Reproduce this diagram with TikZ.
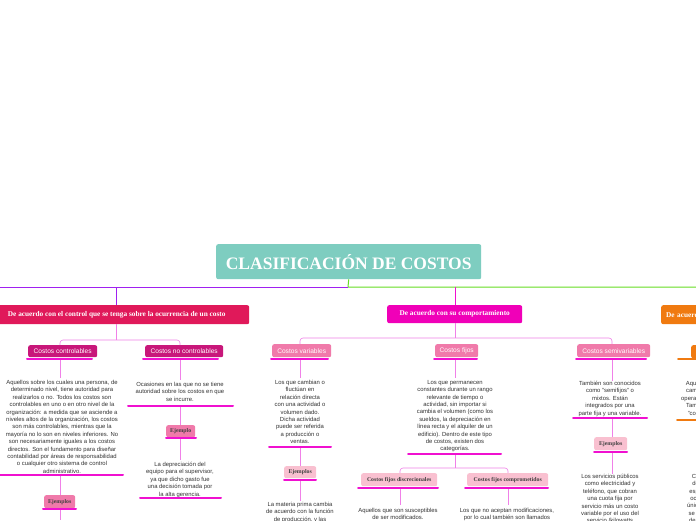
\documentclass[tikz,border=0pt]{standalone}
\usepackage{fontspec}
\setmainfont{Liberation Serif}
\setsansfont{Liberation Sans}
\definecolor{teal1}{HTML}{7ECDC0}
\definecolor{crim}{HTML}{E0195A}
\definecolor{mag}{HTML}{F000B8}
\definecolor{ora}{HTML}{F07A10}
\definecolor{dpk}{HTML}{C8177A}
\definecolor{mpk}{HTML}{F07AAA}
\definecolor{lpk}{HTML}{F9C0D0}
\definecolor{mg}{HTML}{F010D0}
\definecolor{lp}{HTML}{F080E8}
\definecolor{gr}{HTML}{66DD22}
\definecolor{vi}{HTML}{A020F0}
\begin{document}
\begin{tikzpicture}[x=1pt,y=-1pt,
 box/.style={rounded corners=2pt,inner sep=0pt,anchor=north west},
 sub/.style={box,fill=#1,text=white,font=\sffamily\fontsize{6.6}{7}\selectfont},
 dk/.style={box,fill=#1,text=black!75,font=\bfseries\fontsize{5.8}{6.5}\selectfont},
 txt/.style={align=center,inner sep=0pt,anchor=north,text=black!80,font=\sffamily\fontsize{5.9}{7.4}\selectfont},
 hd/.style={box,text=white,font=\bfseries\fontsize{7.3}{8}\selectfont},
 bar/.style={line width=2pt,draw=#1,line cap=round},
 ln/.style={draw=#1,line width=0.6pt,rounded corners=3pt}]
\useasboundingbox (0,0) rectangle (696,520);
\clip (0,0) rectangle (696,520);
\fill[white] (0,0) rectangle (696,520);
% title
\node[box,fill=teal1,minimum width=265pt,minimum height=35pt,text=white,font=\bfseries\fontsize{17.5}{19}\selectfont] (t) at (216,244) {CLASIFICACIÓN DE COSTOS};
\coordinate (tj) at (348,287);
\draw[line width=1pt,gr] (t.south) -- (tj) -- (696,287);
\draw[line width=1pt,vi] (tj) -- (0,287);
% branch headers
\node[hd,fill=crim,minimum width=259pt,minimum height=19pt] (b1) at (-10,305) {\hspace*{-6pt}De acuerdo con el control que se tenga sobre la ocurrencia de un costo};
\node[hd,fill=mag,minimum width=135pt,minimum height=18pt] (b2) at (387,305) {De acuerdo con su comportamiento};
\node[hd,fill=ora,minimum width=150pt,minimum height=19pt,align=left,text width=150pt] (b3) at (661,305) {\hspace*{5pt}De acuerdo con su identificación};
\draw[ln=vi] (116,287) -- (116,305);
\draw[ln=mg] (455,287) -- (455,305);
% branch 1 children
\node[sub=dpk,minimum width=69pt,minimum height=12pt] (c1) at (28,345) {Costos controlables};
\node[sub=dpk,minimum width=78pt,minimum height=12pt] (c2) at (145,345) {Costos no controlables};
\draw[ln=lp] (116,324) -- (116,340);
\draw[ln=lp] (60,345) -- (60,340) -- (180,340) -- (180,345);
\draw[bar=mg] (27,359) -- (92,359);
\draw[bar=mg] (143,359) -- (218,359);
\node[txt] (c1t) at (62,380) {Aquellos sobre los cuales una persona, de\\determinado nivel, tiene autoridad para\\realizarlos o no. Todos los costos son\\controlables en uno o en otro nivel de la\\organización: a medida que se asciende a\\niveles altos de la organización, los costos\\son más controlables, mientras que la\\mayoría no lo son en niveles inferiores. No\\son necesariamente iguales a los costos\\directos. Son el fundamento para diseñar\\contabilidad por áreas de responsabilidad\\o cualquier otro sistema de control\\administrativo.};
\draw[ln=lp] (60,360) -- (60,378);
\draw[bar=mg] (0,475) -- (123,475);
\draw[ln=lp] (60,476) -- (60,495);
\node[dk=mpk,minimum width=31pt,minimum height=13pt] (e1) at (44,495) {Ejemplos};
\draw[bar=mg] (43,509) -- (76,509);
\draw[ln=lp] (60,510) -- (60,520);
\node[txt] (c2t) at (180,382) {Ocasiones en las que no se tiene\\autoridad sobre los costos en que\\se incurre.};
\draw[ln=lp] (180,360) -- (180,380);
\draw[bar=mg] (128,406) -- (233,406);
\draw[ln=lp] (180,407) -- (180,425);
\node[dk=mpk,minimum width=29pt,minimum height=12pt] (e2) at (166,425) {Ejemplo};
\draw[bar=mg] (166,438) -- (196,438);
\draw[ln=lp] (180,439) -- (180,460);
\node[txt] (e2t) at (180,462) {La depreciación del\\equipo para el supervisor,\\ya que dicho gasto fue\\una decisión tomada por\\la alta gerencia.};
\draw[bar=mg] (140,498) -- (221,498);
% branch 2 children
\draw[ln=lp] (455,323) -- (455,338);
\draw[ln=lp] (300,344) -- (300,338) -- (612,338) -- (612,344);
\node[sub=mpk,minimum width=59pt,minimum height=13pt] (v) at (272,344) {Costos variables};
\node[sub=mpk,minimum width=43pt,minimum height=13pt] (f) at (435,344) {Costos fijos};
\node[sub=mpk,minimum width=73pt,minimum height=13pt] (s) at (577,344) {Costos semivariables};
\draw[bar=mg] (271,359) -- (328,359);
\draw[bar=mg] (434,359) -- (477,359);
\draw[bar=mg] (576,359) -- (646,359);
\draw[ln=lp] (300,360) -- (300,378);
\node[txt] (vt) at (300,380) {Los que cambian o\\fluctúan en\\relación directa\\con una actividad o\\volumen dado.\\Dicha actividad\\puede ser referida\\a producción o\\ventas.};
\draw[bar=mg] (269,447) -- (331,447);
\draw[ln=lp] (300,448) -- (300,466);
\node[dk=lpk,minimum width=32pt,minimum height=12pt] (ev) at (284,466) {Ejemplos};
\draw[bar=mg] (284,480) -- (316,480);
\draw[ln=lp] (300,481) -- (300,501);
\node[txt] (evt) at (300,502) {La materia prima cambia\\de acuerdo con la función\\de producción, y las};
\draw[ln=lp] (455,360) -- (455,378);
\node[txt] (ft) at (455,380) {Los que permanecen\\constantes durante un rango\\relevante de tiempo o\\actividad, sin importar si\\cambia el volumen (como los\\sueldos, la depreciación en\\línea recta y el alquiler de un\\edificio). Dentro de este tipo\\de costos, existen dos\\categorías.};
\draw[bar=mg] (408,454) -- (501,454);
\draw[ln=lp] (455,455) -- (455,468);
\draw[ln=lp] (400,473) -- (400,468) -- (508,468) -- (508,473);
\node[dk=lpk,minimum width=76pt,minimum height=13pt] (fd) at (361,473) {Costos fijos discrecionales};
\node[dk=lpk,minimum width=81pt,minimum height=13pt] (fc) at (467,473) {Costos fijos comprometidos};
\draw[bar=mg] (358,488) -- (438,488);
\draw[bar=mg] (465,488) -- (548,488);
\draw[ln=lp] (400,489) -- (400,505);
\draw[ln=lp] (508,489) -- (508,505);
\node[txt] (fdt) at (398,508) {Aquellos que son susceptibles\\de ser modificados.};
\node[txt] (fct) at (507,508) {Los que no aceptan modificaciones,\\por lo cual también son llamados};
\draw[ln=lp] (612,360) -- (612,381);
\node[txt] (st) at (610,381) {También son conocidos\\como "semifijos" o\\mixtos. Están\\integrados por una\\parte fija y una variable.};
\draw[bar=mg] (573,418) -- (647,418);
\draw[ln=lp] (612,419) -- (612,437);
\node[dk=lpk,minimum width=33pt,minimum height=13pt] (es) at (594,437) {Ejemplos};
\draw[bar=mg] (594,452) -- (627,452);
\draw[ln=lp] (612,453) -- (612,474);
\node[txt] (est) at (610,474) {Los servicios públicos\\como electricidad y\\teléfono, que cobran\\una cuota fija por\\servicio más un costo\\variable por el uso del\\servicio (kilowatts};
% branch 3 partial
\node[box,fill=ora,minimum width=30pt,minimum height=13pt] (o1) at (691,345) {};
\draw[bar=ora] (678,359) -- (700,359);
\node[txt,anchor=north west,align=center] (ot) at (681,381) {Aquellos\\cambian\\operaciones\\También\\"costos};
\draw[bar=ora] (677,420) -- (700,420);
\node[txt,anchor=north west,align=center] (ot2) at (687,474) {Cu\\de\\espe\\ocio\\únicos\\se ac\\de m};
\end{tikzpicture}
\end{document}
